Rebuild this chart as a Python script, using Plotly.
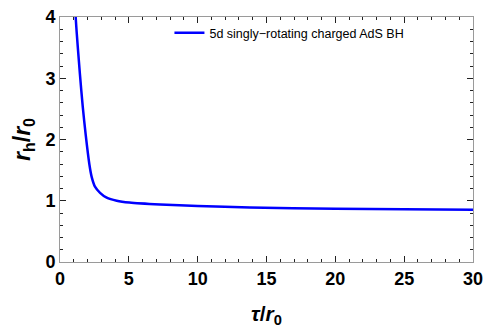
import plotly.graph_objects as go

tau = [1.10, 1.14, 1.45, 1.65, 1.87, 2.13, 2.30, 2.54, 2.91, 3.39, 4.12, 5.04, 7.27, 10.0, 13.8, 20.0, 25.0, 30.0]
rh = [4.3, 4.0, 3.06, 2.54, 2.07, 1.60, 1.39, 1.23, 1.13, 1.05, 1.0, 0.97, 0.938, 0.915, 0.889, 0.87, 0.86, 0.852]
series_name = "5d singly\u2212rotating charged AdS BH"
x_ticks = [0, 5, 10, 15, 20, 25, 30]
y_ticks = [0, 1, 2, 3, 4]

fig = go.Figure()
fig.add_trace(go.Scatter(x=tau, y=rh, mode="lines", name=series_name,
                         line=dict(color="#0000ff", width=2.5, shape="spline", smoothing=0.6),
                         showlegend=True))

tick_col = "#222222"
axis_common = dict(
    showgrid=False, zeroline=False, showline=True, linecolor="#9a9a9a", linewidth=1,
    mirror="ticks", ticks="inside", ticklen=6, tickcolor=tick_col, tickwidth=1,
    ticklabeloverflow="allow",
    tickfont=dict(family="Liberation Sans", size=18, color="black", weight="bold"),
)
fig.update_xaxes(range=[0, 30], tickvals=x_ticks, ticktext=[str(v) for v in x_ticks],
                 minor=dict(dtick=1, ticks="inside", ticklen=3, tickcolor=tick_col),
                 title=dict(text="<b><i>τ</i>/<i>r</i><sub>0</sub></b>",
                            font=dict(family="Liberation Sans, Arial", size=21, color="black"),
                            standoff=18),
                 **axis_common)
fig.update_yaxes(range=[0, 4], tickvals=y_ticks, ticktext=[str(v) for v in y_ticks],
                 minor=dict(dtick=0.2, ticks="inside", ticklen=3, tickcolor=tick_col),
                 title=dict(text="<b><i>r</i><sub>h</sub>/<i>r</i><sub>0</sub></b>",
                            font=dict(family="Liberation Sans, Arial", size=23, color="black"),
                            standoff=8),
                 **axis_common)

fig.update_layout(
    width=497, height=331,
    margin=dict(l=60, r=24, t=7, b=69),
    paper_bgcolor="white", plot_bgcolor="white",
    legend=dict(x=0.265, y=0.995, xanchor="left", yanchor="top",
                bgcolor="rgba(0,0,0,0)", font=dict(family="Liberation Sans, Arial", size=12.5, color="black")),
)
fig.write_html("out.html")
